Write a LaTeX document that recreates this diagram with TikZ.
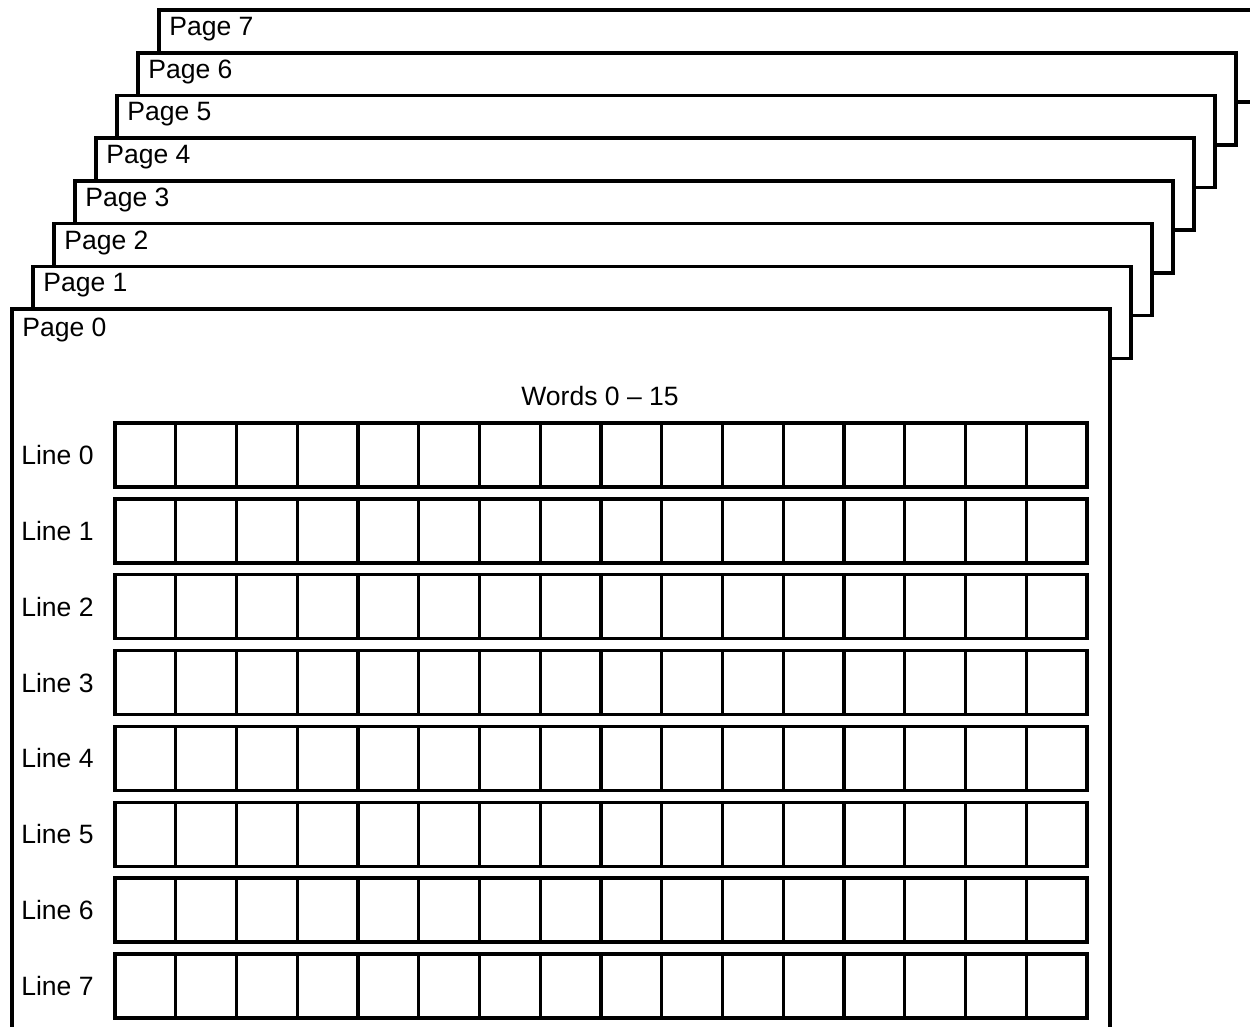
\documentclass[tikz,border=0pt]{standalone}
\usepackage{fontspec}
\setmainfont{Liberation Sans}
\usetikzlibrary{positioning}
\tikzset{
  pagebox/.style={draw=black, fill=white, line width=2pt},
  rowbox/.style={draw=black, line width=1.9pt},
  pagelabel/.style={anchor=west, inner sep=0pt, font=\fontsize{15.1}{18}\selectfont},
  linelabel/.style={anchor=west, inner sep=0pt, font=\fontsize{15.1}{18}\selectfont}
}
\begin{document}
\begin{tikzpicture}[x=0.02cm, y=-0.02cm]
		\useasboundingbox (0,0) rectangle (1250,1027);
		\clip (0,0) rectangle (1250,1027);
		%Pages behind, back to front
		\foreach \k in {7,6,...,1}
		{
		\filldraw[pagebox] ({12+21*\k},{309-42.7*\k}) rectangle ({1110+21*\k},{309-42.7*\k+92});
		\node[pagelabel] (page\k) at ({22+21*\k},{328-42.7*\k}) {Page \k};
		}
		%Front page
		\filldraw[pagebox] (12,309) rectangle (1110,1060);
		\node[pagelabel] (page0) at (22,330) {Page 0};
		\node[linelabel, anchor=center] (words) at (600,396) {Words 0 -- 15};
		%Lines of 16 words
		\foreach \r in {0,...,7}
		{
		\draw[rowbox] (115,{423+75.85*\r}) rectangle (1087,{487+75.85*\r});
		\foreach \c in {1,...,15}
		\draw[rowbox] ({115+60.75*\c},{423+75.85*\r}) -- ({115+60.75*\c},{487+75.85*\r});
		\node[linelabel] (line\r) at (21,{455+75.85*\r}) {Line \r};
		}
\end{tikzpicture}
\end{document}
